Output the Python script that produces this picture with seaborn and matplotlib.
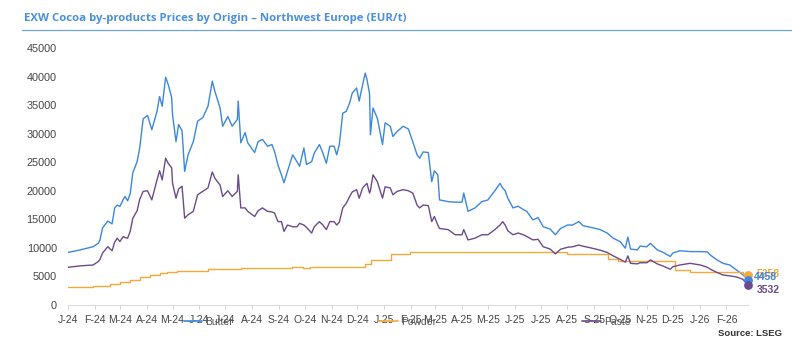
import pandas as pd
import numpy as np
import matplotlib
matplotlib.use("Agg")
import matplotlib.pyplot as plt
from matplotlib.lines import Line2D
import seaborn as sns

# ---------------- data ----------------
dates = [
    "2024-01-01","2024-01-15","2024-01-30","2024-02-05","2024-02-07","2024-02-10","2024-02-16","2024-02-21","2024-02-24","2024-02-27",
    "2024-03-01","2024-03-05","2024-03-07","2024-03-10","2024-03-13","2024-03-16","2024-03-21","2024-03-24","2024-03-28","2024-04-02",
    "2024-04-07","2024-04-13","2024-04-16","2024-04-19","2024-04-23","2024-04-26","2024-04-30","2024-05-01","2024-05-05","2024-05-08",
    "2024-05-12","2024-05-15","2024-05-19","2024-05-25","2024-05-30","2024-06-05","2024-06-11","2024-06-16","2024-06-19","2024-06-25",
    "2024-06-28","2024-07-04","2024-07-09","2024-07-15","2024-07-16","2024-07-19","2024-07-24","2024-07-27","2024-08-04","2024-08-08",
    "2024-08-13","2024-08-19","2024-08-24","2024-08-27","2024-08-31","2024-09-04","2024-09-07","2024-09-11","2024-09-17","2024-09-22",
    "2024-09-25","2024-09-30","2024-10-03","2024-10-09","2024-10-12","2024-10-18","2024-10-22","2024-10-26","2024-10-30","2024-11-04",
    "2024-11-07","2024-11-10","2024-11-14","2024-11-18","2024-11-22","2024-11-25","2024-11-30","2024-12-03","2024-12-07","2024-12-10",
    "2024-12-12","2024-12-15","2024-12-16","2024-12-19","2024-12-24","2024-12-30","2025-01-02","2025-01-08","2025-01-11","2025-01-16",
    "2025-01-23","2025-01-29","2025-02-03","2025-02-08","2025-02-11","2025-02-15","2025-02-21","2025-02-25","2025-02-28","2025-03-04",
    "2025-03-06","2025-03-16","2025-03-24","2025-04-01","2025-04-03","2025-04-08","2025-04-16","2025-04-24","2025-05-01","2025-05-09",
    "2025-05-15","2025-05-18","2025-05-21","2025-05-24","2025-05-30","2025-06-05","2025-06-11","2025-06-15","2025-06-22","2025-06-28",
    "2025-07-04","2025-07-12","2025-07-18","2025-07-24","2025-08-01","2025-08-07","2025-08-14","2025-08-19","2025-08-28","2025-09-08",
    "2025-09-16","2025-09-23","2025-10-01","2025-10-07","2025-10-10","2025-10-13","2025-10-21","2025-10-24","2025-11-01","2025-11-05",
    "2025-11-13","2025-11-20","2025-11-28","2025-12-01","2025-12-09","2025-12-21","2026-01-02","2026-01-10","2026-01-13","2026-01-21",
    "2026-01-28","2026-02-05","2026-02-13","2026-02-20","2026-02-26",
]
butter = [
    9200, 9650, 10200, 10800, 11400, 13500, 14700, 14200, 17000, 17500,
    17250, 18500, 19000, 18250, 19500, 23150, 25100, 27500, 32600, 33200,
    30700, 33900, 36500, 34800, 39900, 38600, 36300, 33300, 28600, 31600,
    30500, 23400, 26300, 28600, 32200, 32800, 34800, 39200, 37400, 34500,
    31300, 33000, 31300, 32500, 35700, 28400, 30200, 28400, 26700, 28600,
    29000, 27800, 28100, 26900, 24500, 22800, 21400, 23400, 26300, 25100,
    24300, 27500, 24600, 25100, 26600, 28100, 26600, 24800, 27800, 27800,
    26300, 28100, 33600, 33900, 35400, 37100, 38000, 35700, 38600, 40600,
    39500, 37000, 29800, 34500, 32700, 28100, 31900, 31300, 29500, 30400,
    31300, 30800, 28600, 26300, 25700, 26800, 26700, 21600, 23500, 22800,
    18400, 18100, 18000, 18000, 19600, 16400, 17000, 18100, 18400, 20000,
    21300, 20500, 20000, 18700, 17000, 17300, 16700, 16400, 14900, 15300,
    13700, 13300, 12300, 13400, 14000, 14000, 14600, 13900, 13600, 13200,
    12600, 11700, 11100, 9950, 11900, 9800, 9650, 10300, 10200, 10800,
    9650, 9200, 8500, 9100, 9500, 9350, 9350, 9300, 8800, 7900,
    7300, 7000, 6100, 5300, 4458,
]
paste = [
    6600, 6850, 7000, 7600, 8000, 9100, 10200, 9500, 11000, 11700,
    11100, 12000, 11800, 11700, 12900, 15200, 16500, 18500, 19900, 20000,
    18400, 21900, 23500, 21900, 25700, 24800, 24000, 21300, 18700, 20300,
    20800, 15200, 15800, 16400, 19300, 19900, 20500, 23300, 22200, 21000,
    19000, 20000, 19000, 19900, 22800, 17000, 17000, 16400, 15500, 16500,
    17000, 16400, 16300, 16100, 14600, 14600, 12900, 14000, 13700, 13700,
    14300, 14000, 13600, 12600, 13700, 14600, 14000, 13200, 14600, 14600,
    14000, 14500, 17000, 17800, 19000, 19800, 20200, 18700, 20500, 21000,
    21300, 19600, 20000, 22800, 21600, 18700, 20700, 20500, 19300, 19900,
    20200, 20000, 19600, 17500, 17000, 17500, 17400, 14600, 15500, 14000,
    13400, 13200, 12300, 12300, 13200, 11400, 11700, 12300, 12300, 13200,
    14000, 14600, 14000, 13000, 12300, 12600, 12300, 12000, 11400, 11500,
    10200, 9800, 8950, 9750, 10100, 10200, 10500, 10300, 10000, 9600,
    9200, 8600, 8000, 7500, 8600, 7300, 7200, 7400, 7400, 7900,
    7200, 6800, 6250, 6700, 7000, 7300, 7000, 6600, 6300, 5700,
    5260, 5100, 4900, 4500, 3532,
]
powder_dates = [
    "2024-01-01","2024-01-30","2024-02-19","2024-03-01","2024-03-13","2024-03-24","2024-04-05","2024-04-16","2024-04-24","2024-05-06",
    "2024-06-11","2024-07-19","2024-09-16","2024-09-29","2024-10-07","2024-12-10","2024-12-17","2025-01-09","2025-01-31","2025-08-01",
    "2025-09-17","2025-09-28","2025-12-03","2025-12-21","2026-02-13","2026-02-20","2026-02-26",
]
powder = [
    3100, 3400, 3600, 3950, 4400, 4950, 5250, 5550, 5850, 5950,
    6300, 6550, 6650, 6450, 6700, 7100, 7800, 8950, 9250, 8950,
    8100, 7700, 6100, 5850, 5700, 5500, 5258,
]
tick_labels = ["J-24","F-24","M-24","A-24","M-24","J-24","J-24","A-24","S-24","O-24","N-24","D-24",
               "J-25","F-25","M-25","A-25","M-25","J-25","J-25","A-25","S-25","O-25","N-25","D-25",
               "J-26","F-26"]
series_names = ["Butter", "Powder", "Paste"]
colors = {"Butter": "#3C87E0", "Powder": "#F5A93B", "Paste": "#6C4A8C"}

assert len(dates) == len(butter) == len(paste)
assert len(powder_dates) == len(powder)

df_bp = pd.DataFrame({"date": pd.to_datetime(dates), "Butter": butter, "Paste": paste})
df_pw = pd.DataFrame({"date": pd.to_datetime(powder_dates), "Powder": powder})

# ---------------- figure ----------------
sns.set_theme(style="white")
plt.rcParams["font.family"] = ["Liberation Sans", "DejaVu Sans"]

fig = plt.figure(figsize=(7.92, 3.49), dpi=100)
ax = fig.add_axes([68/792, 1-305/349, 680/792, 257/349])

sns.lineplot(data=df_bp, x="date", y="Butter", ax=ax, color=colors["Butter"], lw=1.0, label="Butter")
sns.lineplot(data=df_pw, x="date", y="Powder", ax=ax, color=colors["Powder"], lw=1.0, label="Powder",
             drawstyle="steps-post")
sns.lineplot(data=df_bp, x="date", y="Paste", ax=ax, color=colors["Paste"], lw=1.0, label="Paste")

# end markers and labels
ends = {
    "Powder": (df_pw["date"].iloc[-1], powder[-1], (6, 1)),
    "Butter": (df_bp["date"].iloc[-1], butter[-1], (4, 2)),
    "Paste": (df_bp["date"].iloc[-1], paste[-1], (6, -4)),
}
for name in ["Powder", "Butter", "Paste"]:
    d, v, off = ends[name]
    ax.scatter([d], [v], s=28, color=colors[name], zorder=5, clip_on=False)
    ax.annotate(f"{v}", xy=(d, v), xytext=off, textcoords="offset points",
                ha="left", va="center", fontsize=7.5, fontweight="bold",
                color=colors[name], annotation_clip=False)

ax.set_ylim(0, 45000)
ax.set_yticks(np.arange(0, 45001, 5000))
ax.set_xlim(pd.Timestamp("2024-01-01"), pd.Timestamp("2026-02-26"))
month_ticks = pd.date_range("2024-01-01", "2026-02-01", freq="MS")
ax.set_xticks(month_ticks)
ax.set_xticklabels(tick_labels)
ax.set_xlabel("")
ax.set_ylabel("")

for s in ["left", "right", "top"]:
    ax.spines[s].set_visible(False)
ax.spines["bottom"].set_color("#dcdcdc")
ax.spines["bottom"].set_linewidth(0.8)
ax.tick_params(axis="x", length=3, width=0.6, color="#cccccc", labelsize=7.5,
               labelcolor="#444444", pad=4, direction="out", bottom=True)
ax.tick_params(axis="y", length=0, labelsize=7.8, labelcolor="#444444", pad=8)
ax.grid(False)

ax.get_legend().remove()
handles = [Line2D([0], [0], color=colors[n], lw=1.2) for n in series_names]
fig.legend(handles, series_names, loc="center", bbox_to_anchor=(407/792, 1-322/349),
           ncol=3, frameon=False, fontsize=7.5, handlelength=1.8, handletextpad=0.3,
           columnspacing=14.0, labelcolor="#555555")

# title and underline
fig.text(24/792, 1-19/349, "EXW Cocoa by-products Prices by Origin \u2013 Northwest Europe (EUR/t)",
         ha="left", va="center", fontsize=8.2, fontweight="bold", color="#4A90E2",
         family=["Open Sans", "DejaVu Sans"])
fig.add_artist(Line2D([22/792, 1.0], [1-30/349, 1-30/349], color="#6FA6EA", lw=0.9,
                      transform=fig.transFigure))

fig.text(782/792, 1-334/349, "Source: LSEG", ha="right", va="center", fontsize=6.8,
         fontweight="bold", color="#333333")

fig.savefig("out.png", dpi=100)
